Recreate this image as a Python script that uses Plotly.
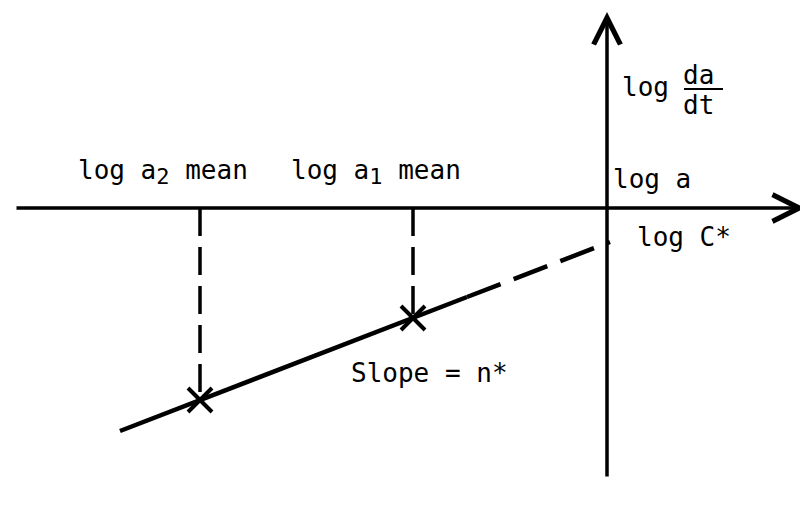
import plotly.graph_objects as go

# schematic: log(da/dt) vs log a, units are arbitrary (origin at axes crossing)
mean_labels = [
    'log a<sub><span style="font-size:22px">2</span></sub> mean',
    'log a<sub><span style="font-size:22px">1</span></sub> mean',
]
log_a_mean = [-4.07, -1.94]
log_rate_mean = [-1.92, -1.10]

fit_x = [-4.87, -4.07, -1.94, -1.40]
fit_y = [-2.23, -1.92, -1.10, -0.89]

extrap_x = [-1.40, 0.03]
extrap_y = [-0.89, -0.34]

log_C = -0.35

x_axis_span = [-5.92, 1.98]
y_axis_span = [-2.70, 1.96]

FONT = dict(family="DejaVu Sans Mono", size=26, color="black")
INK = "black"

fig = go.Figure()

# vertical dashed drops from the axis to each mean point
for xm, ym in zip(log_a_mean, log_rate_mean):
    fig.add_trace(
        go.Scatter(
            x=[xm, xm],
            y=[0, ym],
            mode="lines",
            line=dict(color=INK, width=3.5, dash="28px,11px"),
            hoverinfo="skip",
        )
    )

fig.add_trace(
    go.Scatter(
        x=fit_x, y=fit_y, mode="lines", line=dict(color=INK, width=4.5), hoverinfo="skip"
    )
)
fig.add_trace(
    go.Scatter(
        x=extrap_x,
        y=extrap_y,
        mode="lines",
        line=dict(color=INK, width=4.5, dash="36px,14px"),
        hoverinfo="skip",
    )
)
fig.add_trace(
    go.Scatter(
        x=log_a_mean,
        y=log_rate_mean,
        mode="markers",
        marker=dict(symbol="x-thin", size=24, line=dict(color=INK, width=4)),
        hoverinfo="skip",
    )
)

annotations = [
    # axes with open arrowheads
    dict(
        x=x_axis_span[1], y=0, ax=x_axis_span[0], ay=0,
        xref="x", yref="y", axref="x", ayref="y",
        showarrow=True, arrowhead=5, arrowsize=1.5, arrowwidth=3.5, arrowcolor=INK, text="",
    ),
    dict(
        x=0, y=y_axis_span[1], ax=0, ay=y_axis_span[0],
        xref="x", yref="y", axref="x", ayref="y",
        showarrow=True, arrowhead=5, arrowsize=1.5, arrowwidth=3.5, arrowcolor=INK, text="",
    ),
]

for lab, xm in zip(mean_labels, log_a_mean):
    annotations.append(
        dict(x=xm - 0.37, y=0.36, text=lab, showarrow=False, font=FONT, xanchor="center")
    )

annotations += [
    dict(x=0.04, y=0.29, text="log a", showarrow=False, font=FONT, xanchor="left"),
    dict(x=0.28, y=log_C + 0.06, text="log C*", showarrow=False, font=FONT, xanchor="left"),
    dict(x=0.13, y=1.21, text="log", showarrow=False, font=FONT, xanchor="left"),
    dict(x=0.74, y=1.33, text="da", showarrow=False, font=FONT, xanchor="left"),
    dict(x=0.74, y=1.03, text="dt", showarrow=False, font=FONT, xanchor="left"),
    dict(x=-1.78, y=-1.65, text="Slope = n*", showarrow=False, font=FONT),
]

fig.add_shape(type="line", x0=0.77, x1=1.16, y0=1.19, y1=1.19, line=dict(color=INK, width=2))

# page body adds an 8px offset, so plot 800x497 and trim the ranges to match
fig.update_layout(
    width=800,
    height=497,
    margin=dict(l=0, r=0, t=0, b=0),
    plot_bgcolor="white",
    paper_bgcolor="white",
    showlegend=False,
    annotations=annotations,
    xaxis=dict(range=[-5.99, 2.01], visible=False, fixedrange=True),
    yaxis=dict(range=[-2.97, 2.00], visible=False, fixedrange=True),
)

fig.write_html("out.html")
